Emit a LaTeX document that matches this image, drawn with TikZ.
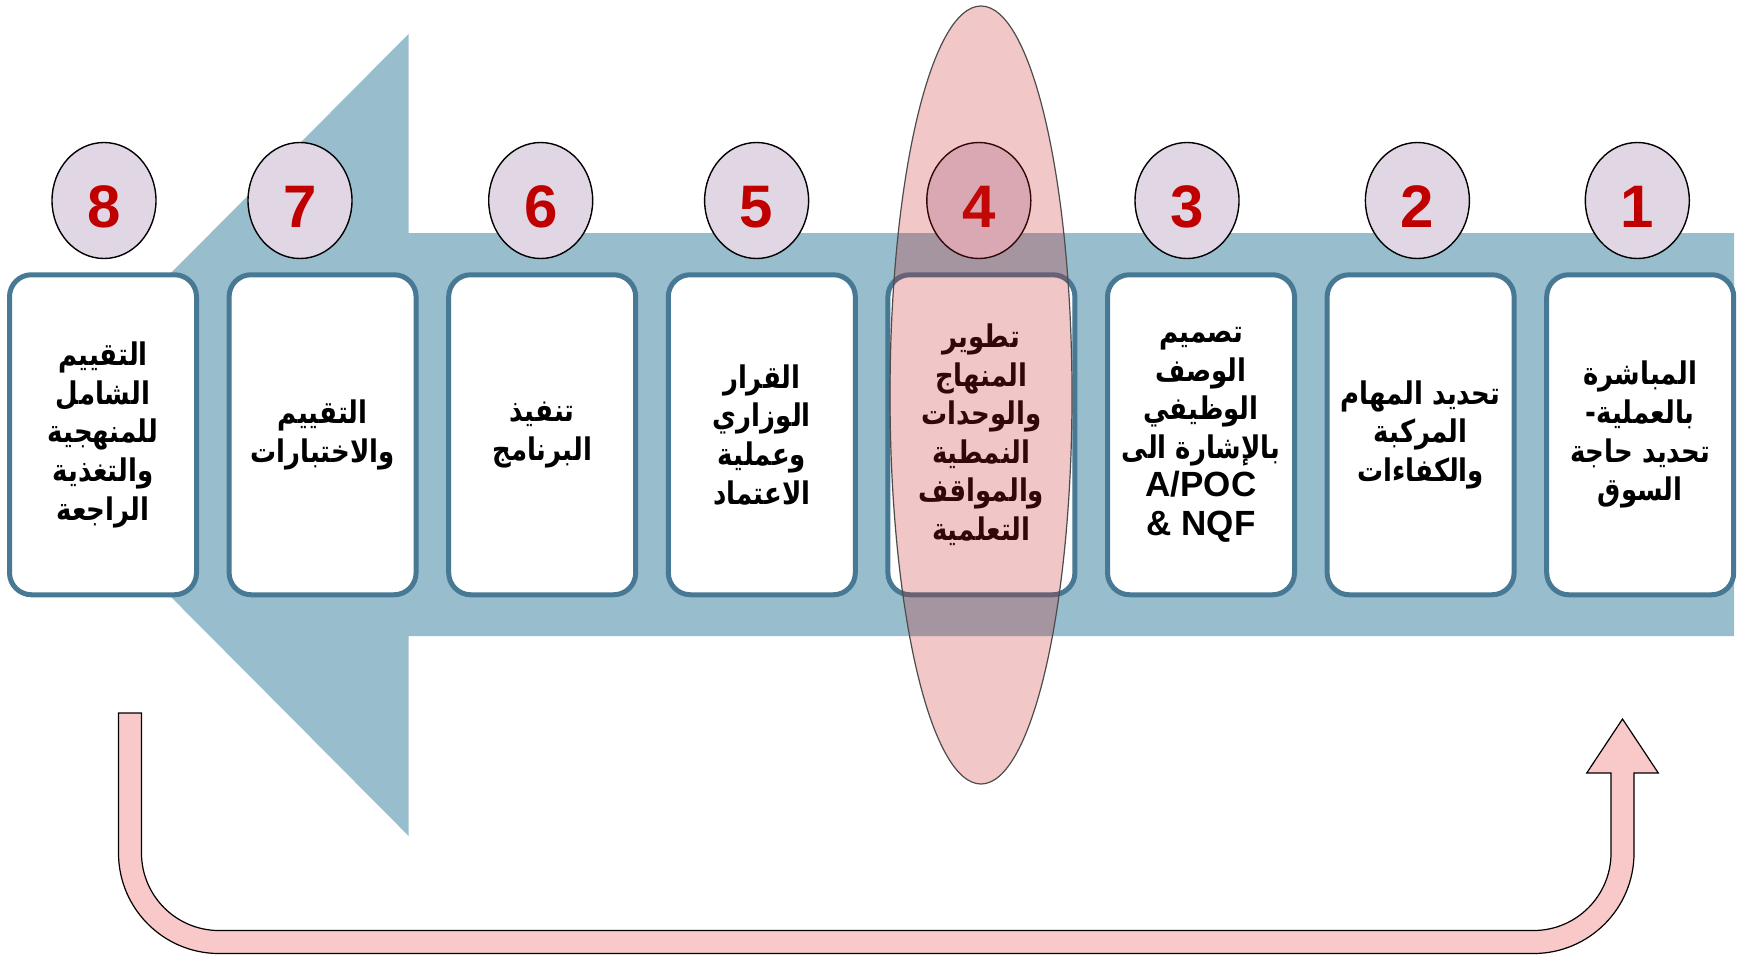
\documentclass[tikz,border=0pt]{standalone}
\usepackage{fontspec}
\usepackage{graphicx}
\setmainfont{Liberation Sans}
\newfontfamily\arabicfont[Script=Arabic]{DejaVu Sans}
\TeXXeTstate=1
\usetikzlibrary{shapes.geometric}
\definecolor{arrowblue}{RGB}{152,189,205}
\definecolor{boxedge}{RGB}{72,121,148}
\definecolor{lav}{RGB}{225,215,228}
\definecolor{numred}{RGB}{192,0,0}
\definecolor{ovl}{RGB}{200,30,30}
\definecolor{bandpink}{RGB}{249,200,200}
\newcommand{\arl}[1]{\scalebox{1}[1.2]{\beginR #1\endR}}
\newcommand{\latl}[1]{{\rmfamily\bfseries\fontsize{17.5}{19.3}\selectfont #1}}
\begin{document}
\begin{tikzpicture}[x=0.5pt,y=-0.5pt,
  stepbox/.style={draw=boxedge, line width=2.5pt, fill=white, rounded corners=11pt,
    minimum width=93.5pt, minimum height=160pt, inner sep=0pt, align=center,
    font={\arabicfont\bfseries\fontsize{13}{19.3}\selectfont\lineskiplimit=-50pt}},
  numdisc/.style={ellipse, draw=black, line width=0.7pt, fill=lav,
    minimum width=52pt, minimum height=58pt, inner sep=0pt, text=numred,
    font=\bfseries\fontsize{30}{36}\selectfont, text height=27pt, text depth=0pt},
  focusring/.style={ellipse, draw=black!70, line width=0.6pt, fill=ovl, fill opacity=0.25,
    minimum width=91pt, minimum height=389pt, inner sep=0pt},
  band/.style={draw=black, line width=0.6pt, fill=bandpink}]
\useasboundingbox (0,0) rectangle (1748,959);
% big blue arrow pointing left
\fill[arrowblue] (1734,233) -- (408.7,233) -- (408.7,33.8) -- (10,435) -- (408.7,836) -- (408.7,636) -- (1734,636) -- cycle;
% number discs
\node[numdisc] (n8) at (104,200.5) {8};
\node[numdisc] (n7) at (300,200.5) {7};
\node[numdisc] (n6) at (540.7,200.5) {6};
\node[numdisc] (n5) at (756.6,200.5) {5};
\node[numdisc] (n4) at (978.8,200.5) {4};
\node[numdisc] (n3) at (1187,200.5) {3};
\node[numdisc] (n2) at (1417.4,200.5) {2};
\node[numdisc] (n1) at (1637.3,200.5) {1};
% step boxes
\node[stepbox] (b8) at (103,434.75) {\arl{التقييم}\\\arl{الشامل}\\\arl{للمنهجية}\\\arl{والتغذية}\\\arl{الراجعة}};
\node[stepbox] (b7) at (322.6,434.75) {\arl{التقييم}\\\arl{والاختبارات}};
\node[stepbox] (b6) at (542.2,434.75) {\arl{تنفيذ}\\\arl{البرنامج}};
\node[stepbox] (b5) at (761.8,434.75) {\arl{القرار}\\\arl{الوزاري}\\\arl{وعملية}\\\arl{الاعتماد}};
\node[stepbox] (b4) at (981.4,434.75) {\arl{تطوير}\\\arl{المنهاج}\\\arl{والوحدات}\\\arl{النمطية}\\\arl{والمواقف}\\\arl{التعلمية}};
\node[stepbox] (b3) at (1201,434.75) {\arl{تصميم}\\\arl{الوصف}\\\arl{الوظيفي}\\\arl{بالإشارة الى}\\\latl{A/POC}\\\latl{\& NQF}};
\node[stepbox] (b2) at (1420.6,434.75) {\arl{تحديد المهام}\\\arl{المركبة}\\\arl{والكفاءات}};
\node[stepbox] (b1) at (1640.2,434.75) {\arl{المباشرة}\\\arl{بالعملية-}\\\arl{تحديد حاجة}\\\arl{السوق}};
% translucent highlight over step 4
\node[focusring] (focus) at (981,395) {};
% feedback U-arrow from step 8 back to step 1
\draw[band] (118.5,713) -- (141.5,713) -- (141.5,853)
  arc[start angle=180, end angle=270, radius=38.75pt] -- (1533.5,930.5)
  arc[start angle=270, end angle=360, radius=38.75pt] -- (1611,773)
  -- (1586.7,773) -- (1622.5,719) -- (1658.3,773) -- (1634,773) -- (1634,853)
  arc[start angle=0, end angle=-90, radius=50.25pt] -- (219,953.5)
  arc[start angle=-90, end angle=-180, radius=50.25pt] -- cycle;
\end{tikzpicture}
\end{document}
